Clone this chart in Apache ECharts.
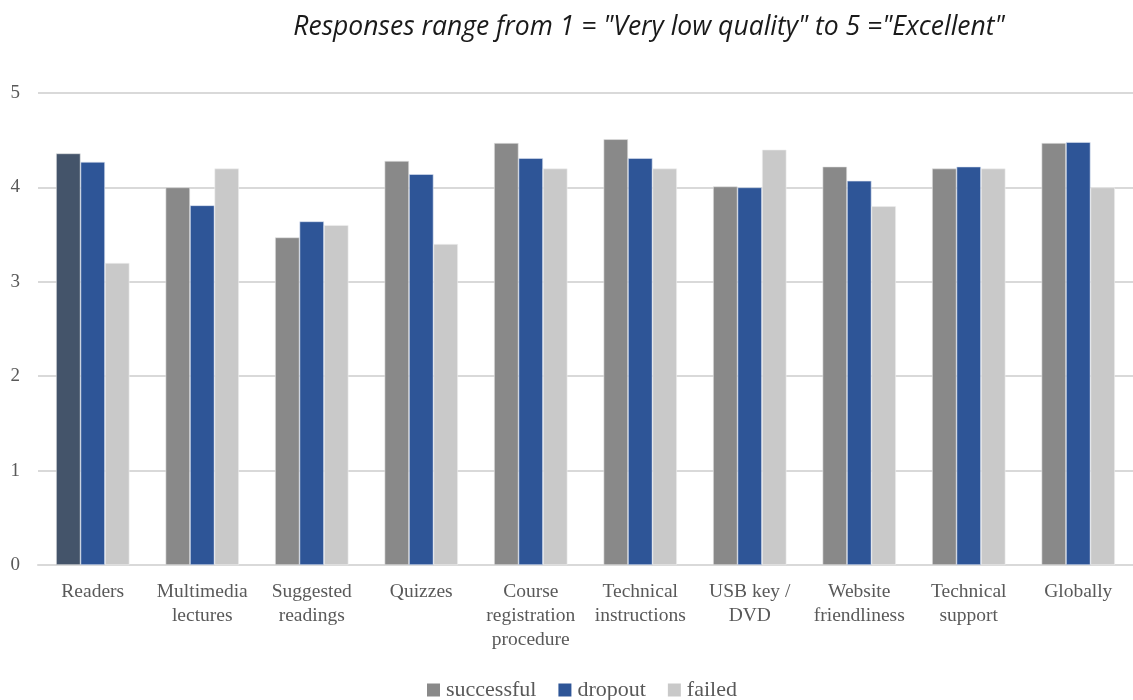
<!DOCTYPE html>
<html>
<head>
<meta charset="utf-8">
<script src="https://cdn.jsdelivr.net/npm/echarts@6/dist/echarts.min.js"></script>
<style>
  html, body { margin: 0; padding: 0; background: #fff; }
  #chart { width: 1133px; height: 700px; }
</style>
</head>
<body>
<div id="chart"></div>
<script>
// Mean quality rating per course component, by student outcome
const categories = [
  'Readers', 'Multimedia\nlectures', 'Suggested\nreadings', 'Quizzes',
  'Course\nregistration\nprocedure', 'Technical\ninstructions', 'USB key /\nDVD',
  'Website\nfriendliness', 'Technical\nsupport', 'Globally'
];
const successful = [4.36, 4.00, 3.47, 4.28, 4.47, 4.51, 4.01, 4.22, 4.20, 4.47];
const dropout    = [4.27, 3.81, 3.64, 4.14, 4.31, 4.31, 4.00, 4.07, 4.22, 4.48];
const failed     = [3.20, 4.20, 3.60, 3.40, 4.20, 4.20, 4.40, 3.80, 4.20, 4.00];
const yTicks = [0, 1, 2, 3, 4, 5];

const serif = '"Liberation Serif", "DejaVu Serif", serif';
const textGray = '#595959';

// first bar of the "successful" series is drawn in a darker slate tone
const successfulData = successful.map((v, i) =>
  i === 0 ? { value: v, itemStyle: { color: '#44546A' } } : v);

const chart = echarts.init(document.getElementById('chart'));
chart.setOption({
  animation: false,
  title: {
    text: 'Responses range from 1 = "Very low quality" to 5 ="Excellent"',
    left: 644,
    textAlign: 'center',
    top: 9,
    textStyle: {
      fontFamily: '"Open Sans", "Noto Sans", sans-serif',
      fontStyle: 'italic',
      fontWeight: 'normal',
      fontSize: 26.5,
      color: '#1a1a1a'
    }
  },
  legend: {
    top: 674,
    left: 422,
    itemWidth: 13,
    itemHeight: 13,
    itemGap: 22,
    icon: 'rect',
    itemStyle: { borderWidth: 0 },
    textStyle: { fontFamily: serif, fontSize: 22, color: textGray, padding: [0, 0, 0, 1] },
    data: ['successful', 'dropout', 'failed']
  },
  grid: { left: 38, top: 93, width: 1100, height: 472, containLabel: false },
  xAxis: {
    type: 'category',
    data: categories,
    axisLine: { show: true, lineStyle: { color: '#d9d9d9', width: 2 } },
    axisTick: { show: false },
    axisLabel: {
      interval: 0,
      margin: 15,
      lineHeight: 24,
      fontFamily: serif,
      fontSize: 19.5,
      color: textGray
    }
  },
  yAxis: {
    type: 'value',
    min: yTicks[0],
    max: yTicks[yTicks.length - 1],
    interval: 1,
    axisLine: { show: false },
    axisTick: { show: false },
    splitLine: { lineStyle: { color: '#d9d9d9', width: 2 } },
    axisLabel: {
      margin: 18,
      fontFamily: serif,
      fontSize: 19,
      color: textGray
    }
  },
  series: [
    {
      name: 'successful', type: 'bar', data: successfulData,
      barGap: '0%', barCategoryGap: '33%',
      itemStyle: { color: '#898989', borderColor: '#e4e4e4', borderWidth: 0.6 }
    },
    {
      name: 'dropout', type: 'bar', data: dropout,
      itemStyle: { color: '#2E5597', borderColor: '#dfe6f2', borderWidth: 0.6 }
    },
    {
      name: 'failed', type: 'bar', data: failed,
      itemStyle: { color: '#C9C9C9', borderColor: '#f0f0f0', borderWidth: 0.6 }
    }
  ]
});
</script>
</body>
</html>
